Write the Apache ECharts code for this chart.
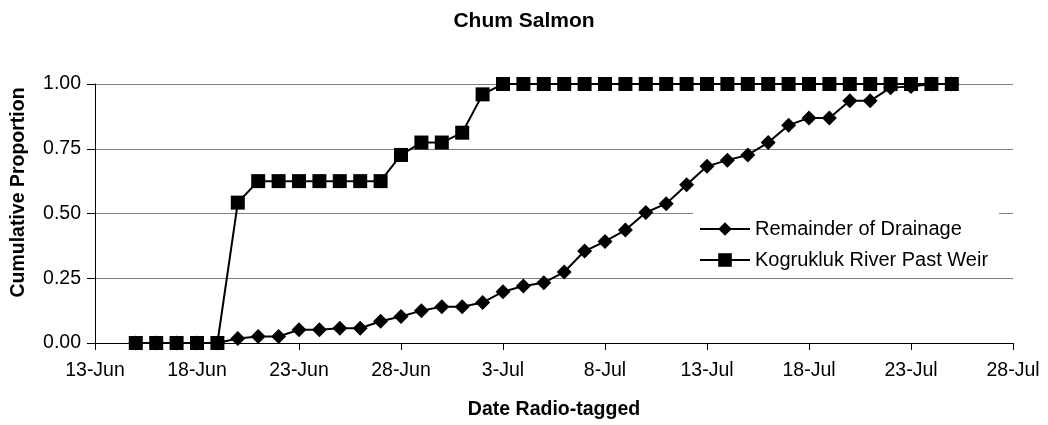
<!DOCTYPE html>
<html><head><meta charset="utf-8">
<script src="https://cdn.jsdelivr.net/npm/echarts@6/dist/echarts.min.js"></script>
<style>html,body{margin:0;padding:0;background:#fff}#c{width:1048px;height:425px}</style>
</head><body><div id="c"></div><script>
const titleText = 'Chum Salmon';
const xAxisName = 'Date Radio-tagged';
const yAxisName = 'Cumulative Proportion';
const tickLabels = ['13-Jun','18-Jun','23-Jun','28-Jun','3-Jul','8-Jul','13-Jul','18-Jul','23-Jul','28-Jul'];
const dates = ['15-Jun','16-Jun','17-Jun','18-Jun','19-Jun','20-Jun','21-Jun','22-Jun','23-Jun','24-Jun',
  '25-Jun','26-Jun','27-Jun','28-Jun','29-Jun','30-Jun','1-Jul','2-Jul','3-Jul','4-Jul',
  '5-Jul','6-Jul','7-Jul','8-Jul','9-Jul','10-Jul','11-Jul','12-Jul','13-Jul','14-Jul',
  '15-Jul','16-Jul','17-Jul','18-Jul','19-Jul','20-Jul','21-Jul','22-Jul','23-Jul','24-Jul','25-Jul'];
const remainderName = 'Remainder of Drainage';
const remainder = [0,0,0,0,0,0.017,0.025,0.025,0.051,0.051,
  0.057,0.057,0.084,0.102,0.125,0.140,0.140,0.156,0.198,0.220,
  0.233,0.274,0.355,0.392,0.436,0.504,0.538,0.611,0.682,0.706,
  0.726,0.774,0.841,0.869,0.869,0.935,0.935,0.986,0.99,1,1];
const kogName = 'Kogrukluk River Past Weir';
const kogrukluk = [0,0,0,0,0,0.542,0.625,0.625,0.625,0.625,
  0.625,0.625,0.625,0.726,0.774,0.774,0.812,0.96,1,1,
  1,1,1,1,1,1,1,1,1,1,
  1,1,1,1,1,1,1,1,1,1,1];

const monthStart = {Jun: 0, Jul: 30};
function dayIndex(s) { const p = s.split('-'); return monthStart[p[1]] + parseInt(p[0], 10) - 13; }
const xs = dates.map(dayIndex);

const font = 'Liberation Sans, Arial, sans-serif';
const chart = echarts.init(document.getElementById('c'));
chart.setOption({
  animation: false,
  backgroundColor: '#fff',
  textStyle: {fontFamily: font, color: '#000'},
  title: {text: titleText, left: 'center', top: 6,
    textStyle: {fontFamily: font, fontSize: 21, fontWeight: 'bold', color: '#000'}},
  grid: {left: 95, right: 35, top: 84, bottom: 79, containLabel: false},
  legend: {
    orient: 'vertical', left: 693, top: 209,
    padding: [10, 11, 8, 6], itemGap: 11, itemWidth: 50, itemHeight: 17,
    backgroundColor: '#fff',
    textStyle: {fontFamily: font, fontSize: 20, color: '#000'},
    data: [remainderName, kogName]
  },
  xAxis: {
    type: 'value', min: 0, max: 45, interval: 5,
    name: xAxisName, nameLocation: 'middle', nameGap: 57,
    nameTextStyle: {fontFamily: font, fontSize: 19.5, fontWeight: 'bold', color: '#000'},
    axisLine: {lineStyle: {color: '#000', width: 1}},
    axisTick: {show: true, length: 7, lineStyle: {color: '#000'}},
    axisLabel: {fontFamily: font, fontSize: 19.5, color: '#000', margin: 18,
      formatter: v => tickLabels[Math.round(v / 5)]},
    splitLine: {show: false}
  },
  yAxis: {
    type: 'value', min: 0, max: 1, interval: 0.25,
    name: yAxisName, nameLocation: 'middle', nameGap: 66,
    nameTextStyle: {fontFamily: font, fontSize: 19.5, fontWeight: 'bold', color: '#000', padding: [0, 0, 0, 42]},
    axisLine: {show: true, lineStyle: {color: '#000', width: 1}},
    axisTick: {show: true, length: 8, lineStyle: {color: '#000'}},
    axisLabel: {fontFamily: font, fontSize: 19.5, color: '#000', margin: 14,
      formatter: v => v.toFixed(2)},
    splitLine: {show: true, lineStyle: {color: '#808080', width: 1}}
  },
  series: [
    {name: remainderName, type: 'line', data: xs.map((x, i) => [x, remainder[i]]),
      symbol: 'diamond', symbolSize: 15, showAllSymbol: true,
      lineStyle: {color: '#000', width: 2}, itemStyle: {color: '#000', borderWidth: 0}, z: 2},
    {name: kogName, type: 'line', data: xs.map((x, i) => [x, kogrukluk[i]]),
      symbol: 'rect', symbolSize: 14, showAllSymbol: true,
      lineStyle: {color: '#000', width: 2}, itemStyle: {color: '#000', borderWidth: 0}, z: 3}
  ]
});
</script></body></html>
